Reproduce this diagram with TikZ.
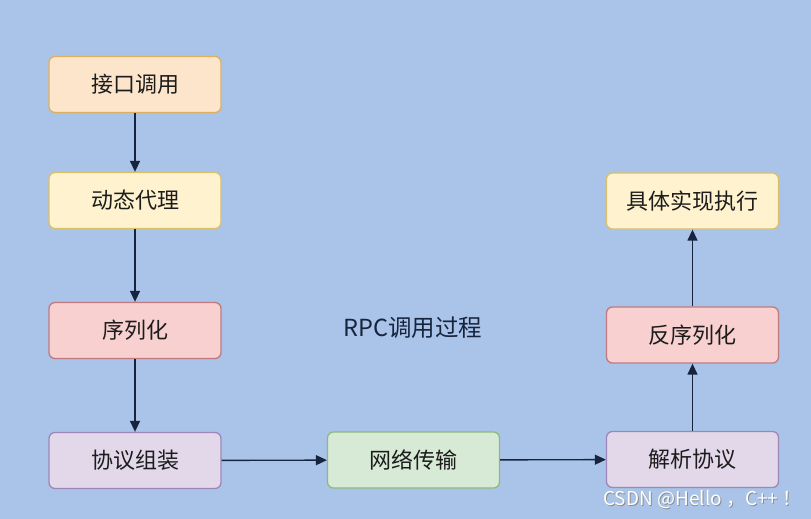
\documentclass[tikz,border=0pt]{standalone}
\usepackage{fontspec}
\setmainfont{Noto Sans CJK SC}
\usetikzlibrary{arrows.meta}
\usetikzlibrary{positioning}

\definecolor{bgblue}{HTML}{A9C4E8}
\definecolor{arrowc}{HTML}{16243D}
\definecolor{txtc}{HTML}{1C1C1C}
\definecolor{orfill}{HTML}{FDE5CC}
\definecolor{ordraw}{HTML}{DDB060}
\definecolor{yefill}{HTML}{FEF2CF}
\definecolor{yedraw}{HTML}{D9C06A}
\definecolor{rdfill}{HTML}{F7D0CF}
\definecolor{rddraw}{HTML}{BF7A80}
\definecolor{pufill}{HTML}{E3D8EA}
\definecolor{pudraw}{HTML}{9E86B8}
\definecolor{grfill}{HTML}{D7EAD5}
\definecolor{grdraw}{HTML}{8DBA7A}

\begin{document}
\begin{tikzpicture}[x=1pt,y=-1pt,
    box/.style={rounded corners=6pt, line width=1.3pt, minimum width=172pt,
      minimum height=56pt, text=txtc, font=\fontsize{22}{24}\selectfont, inner sep=0pt},
    orbox/.style={box, fill=orfill, draw=ordraw},
    yebox/.style={box, fill=yefill, draw=yedraw},
    rdbox/.style={box, fill=rdfill, draw=rddraw},
    pubox/.style={box, fill=pufill, draw=pudraw},
    grbox/.style={box, fill=grfill, draw=grdraw},
    flow/.style={-{Triangle[length=11pt,width=10pt]}, line width=1.4pt, draw=arrowc}]
  \fill[bgblue] (0,0) rectangle (811,519);
  \useasboundingbox (0,0) rectangle (811,519);

  % client side
  \node[orbox] (call) at (135,84.5) {接口调用};
  \node[yebox] (proxy) at (135,200.5) {动态代理};
  \node[rdbox] (ser) at (135,330.5) {序列化};
  \node[pubox] (pack) at (135,460.5) {协议组装};

  % network
  \node[grbox] (net) at (413.5,460) {网络传输};

  % server side
  \node[pubox] (parse) at (692.5,459.5) {解析协议};
  \node[rdbox] (deser) at (692.5,335) {反序列化};
  \node[yebox] (exec) at (692.5,201) {具体实现执行};

  \node[text=arrowc, font=\fontsize{23.5}{25}\selectfont] (title) at (413,328) {RPC调用过程};

  \draw[flow] (call) -- (proxy);
  \draw[flow] (proxy) -- (ser);
  \draw[flow] (ser) -- (pack);
  \draw[flow] (pack) -- (net);
  \draw[flow] (net) -- (parse);
  \draw[flow] (parse) -- (deser);
  \draw[flow] (deser) -- (exec);

  % watermark
  \node[text=black!45, font=\fontsize{19}{21}\selectfont] (wm0) at (703.3,500.3) {CSDN @Hello ，C++ ！};
  \node[text=white, font=\fontsize{19}{21}\selectfont] (wm) at (702.5,499.5) {CSDN @Hello ，C++ ！};
\end{tikzpicture}
\end{document}
